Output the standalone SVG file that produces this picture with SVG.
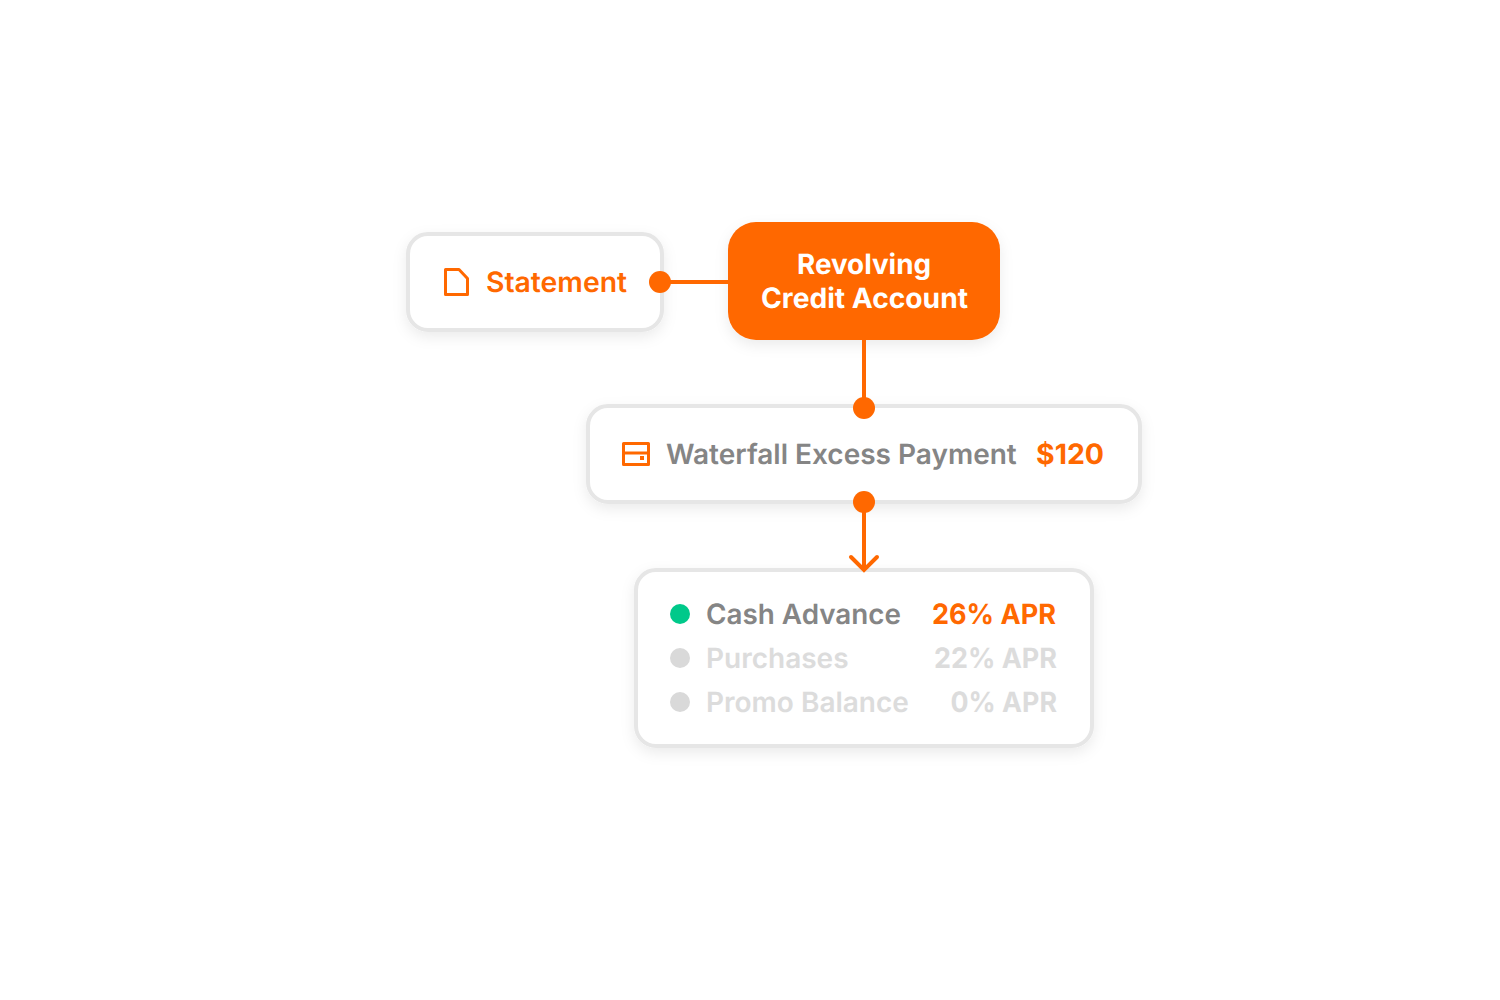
<svg xmlns="http://www.w3.org/2000/svg" width="1500" height="1000" viewBox="0 0 1500 1000">
<style>
text{font-family:Inter,"Liberation Sans",sans-serif;font-weight:600;font-size:28px;text-rendering:geometricPrecision}
.card{fill:#fff;stroke:#e6e6e6;stroke-width:4;filter:url(#sh)}
.o{fill:#ff6800}.g{fill:#858585}.l{fill:#dcdcdc}
.b{font-weight:700}
.ln{stroke:#ff6800;stroke-width:4;fill:none}
.ic{stroke:#ff6800;stroke-width:3;fill:none;stroke-linejoin:round}
</style>
<defs><filter id="sh" x="-20%" y="-30%" width="140%" height="170%"><feDropShadow dx="0" dy="5" stdDeviation="7" flood-color="#000" flood-opacity="0.08"/></filter></defs>
<rect width="1500" height="1000" fill="#fff"/>
<g id="statement"><rect class="card" x="408" y="234" width="254" height="96" rx="20"/>
<path class="ic" d="M445.500 269.500H459L467.500 278.500V294.500H445.500Z"/>
<text class="o" x="486" y="292" textLength="141" lengthAdjust="spacingAndGlyphs">Statement</text></g>
<g id="revolving"><rect x="728" y="222" width="272" height="118" rx="28" class="o" filter="url(#sh)"/>
<text class="b" x="797" y="274" fill="#fff" textLength="134" lengthAdjust="spacingAndGlyphs">Revolving</text>
<text class="b" x="761" y="308" fill="#fff" textLength="207" lengthAdjust="spacingAndGlyphs">Credit Account</text></g>
<g id="waterfall"><rect class="card" x="588" y="406" width="552" height="96" rx="20"/>
<rect class="ic" x="623.500" y="443.500" width="25" height="21"/><path class="ic" d="M623 453H649"/><rect class="o" x="640" y="456" width="4" height="4"/>
<text class="g" x="666" y="464">Waterfall Excess Payment</text>
<text class="o b" x="1036" y="464" textLength="68" lengthAdjust="spacingAndGlyphs">$120</text></g>
<g id="balances"><rect class="card" x="636" y="570" width="456" height="176" rx="20"/>
<circle cx="680" cy="614" r="10" fill="#00c98a"/><text class="g" x="706" y="624" textLength="195" lengthAdjust="spacingAndGlyphs">Cash Advance</text><text class="o b" x="932" y="624" textLength="124" lengthAdjust="spacingAndGlyphs">26% APR</text>
<circle cx="680" cy="658" r="10" fill="#d9d9d9"/><text class="l" x="706" y="668">Purchases</text><text class="l b" x="934" y="668" textLength="123" lengthAdjust="spacingAndGlyphs">22% APR</text>
<circle cx="680" cy="702" r="10" fill="#d9d9d9"/><text class="l" x="706" y="712">Promo Balance</text><text class="l b" x="950.500" y="712" textLength="106.500" lengthAdjust="spacingAndGlyphs">0% APR</text></g>
<g id="connectors">
<path class="ln" d="M660 282H728"/><circle class="o" cx="660" cy="282" r="11"/>
<path class="ln" d="M864 340V408"/><circle class="o" cx="864" cy="408" r="11"/>
<path class="ln" d="M864 502V570"/><circle class="o" cx="864" cy="502" r="11"/>
<path class="ln" d="M851 557L864 570L877 557" stroke-linecap="round"/>
</g>
</svg>
